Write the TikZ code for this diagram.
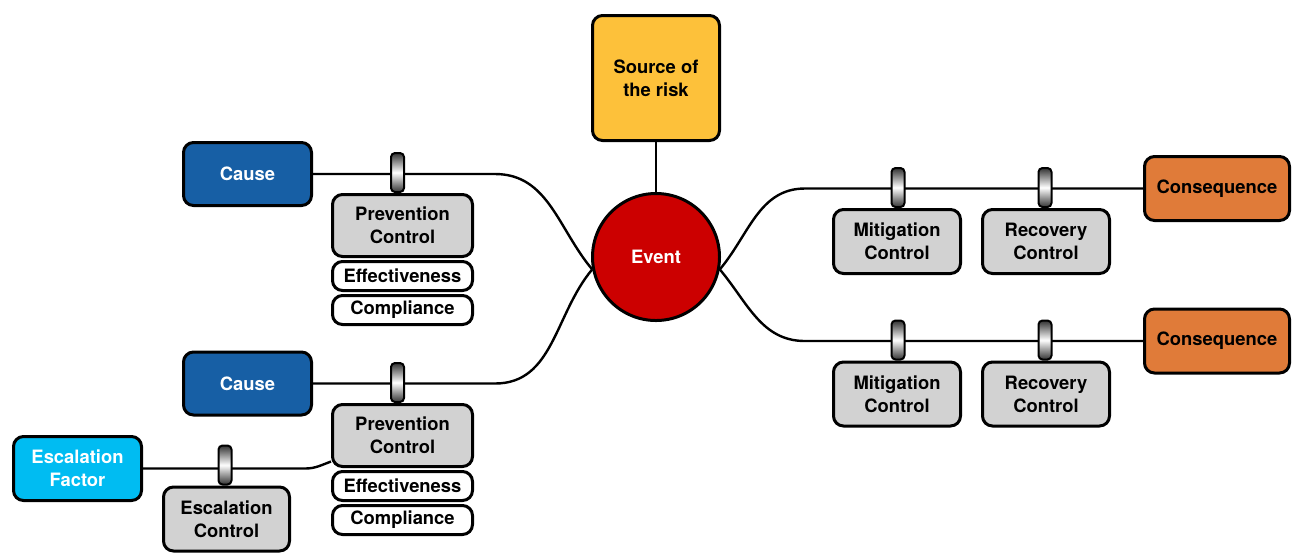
\documentclass[tikz,border=0pt]{standalone}
\usepackage{fontspec}
\setmainfont{TeX Gyre Heros}
\usetikzlibrary{positioning,shapes}
\pgfdeclarelayer{background}
\pgfsetlayers{background,main}
\definecolor{riskyellow}{HTML}{FDC13A}
\definecolor{eventred}{HTML}{CC0000}
\definecolor{causeblue}{HTML}{175FA5}
\definecolor{escblue}{HTML}{00BCF2}
\definecolor{conorange}{HTML}{E07B39}
\definecolor{ctrlgrey}{HTML}{D2D2D2}
\tikzstyle{box}=[draw,line width=1.5pt,rounded corners=5pt,align=center,inner sep=0pt,font=\bfseries\fontsize{9.2}{11.5}\selectfont]
\tikzstyle{cause}=[box,fill=causeblue,text=white,minimum width=64pt,minimum height=31.5pt]
\tikzstyle{prevent}=[box,fill=ctrlgrey,minimum width=70pt,minimum height=31pt]
\tikzstyle{control}=[box,fill=ctrlgrey,minimum width=63.5pt,minimum height=32pt]
\tikzstyle{tag}=[box,fill=white,minimum width=70pt,minimum height=14.5pt]
\tikzstyle{post}=[draw,line width=1pt,rounded corners=2pt,minimum width=6.5pt,minimum height=19.5pt,inner sep=0pt,top color=black!80,bottom color=black!80,middle color=white]
\tikzstyle{edge}=[draw,line width=1.2pt,-]

\begin{document}
\begin{tikzpicture}[x=0.5pt,y=-0.5pt]
    \useasboundingbox (0,0) rectangle (1295,554);
    % The top event and its source
    \node[box,fill=riskyellow,minimum width=63.5pt,minimum height=62.5pt] (src) at (656,78) {Source of\\the risk};
    \node[box,circle,fill=eventred,text=white,minimum size=63.5pt] (ev) at (656,257) {Event};
    % Threat side
    \node[cause] (c1) at (247.5,174) {Cause};
    \node[cause] (c2) at (247.5,383.5) {Cause};
    \node[prevent] (pc1) at (402.5,225.5) {Prevention\\Control};
    \node[tag,below=1pt of pc1] (eff1) {Effectiveness};
    \node[tag,below=1pt of eff1] (comp1) {Compliance};
    \node[prevent] (pc2) at (402.5,435.5) {Prevention\\Control};
    \node[tag,below=1pt of pc2] (eff2) {Effectiveness};
    \node[tag,below=1pt of eff2] (comp2) {Compliance};
    \node[cause,fill=escblue,minimum height=32pt] (ef) at (77.5,468.5) {Escalation\\Factor};
    \node[control,minimum width=63pt] (ec) at (226.5,519) {Escalation\\Control};
    % Consequence side
    \node[control] (m1) at (897,241.5) {Mitigation\\Control};
    \node[control] (r1) at (1046,241.5) {Recovery\\Control};
    \node[control] (m2) at (897,394) {Mitigation\\Control};
    \node[control] (r2) at (1046,394) {Recovery\\Control};
    \node[box,fill=conorange,minimum width=72.5pt,minimum height=32pt] (q1) at (1217,188.5) {Consequence};
    \node[box,fill=conorange,minimum width=72.5pt,minimum height=32pt] (q2) at (1217,341) {Consequence};
    % Bends of the paths
    \coordinate (k1) at (495,174);
    \coordinate (k2) at (495,383.5);
    \coordinate (k3) at (805,188.5);
    \coordinate (k4) at (805,341);
    \coordinate (k5) at (305,468.5);
    \begin{pgfonlayer}{background}
        \path[edge] (src) -- (ev);
        \path[edge] (c1) -- (k1) to[out=0,in=130] (ev.191);
        \path[edge] (c2) -- (k2) to[out=0,in=230] (ev.191);
        \path[edge] (ev.349) to[out=50,in=180] (k3) -- (q1);
        \path[edge] (ev.349) to[out=-50,in=180] (k4) -- (q2);
        \path[edge] (ef) -- (k5) to[out=0,in=200] (pc2.200);
    \end{pgfonlayer}
    % Barriers on the paths
    \foreach \ctl/\sh/\name in {pc1/-2.5/b1, pc2/-2.5/b2, ec/-0.75/b3, m1/0.5/b4, r1/-0.5/b5, m2/0.5/b6, r2/-0.5/b7}
        \node[post,anchor=south] (\name) at ([xshift=\sh pt]\ctl.north) {};
\end{tikzpicture}
\end{document}
